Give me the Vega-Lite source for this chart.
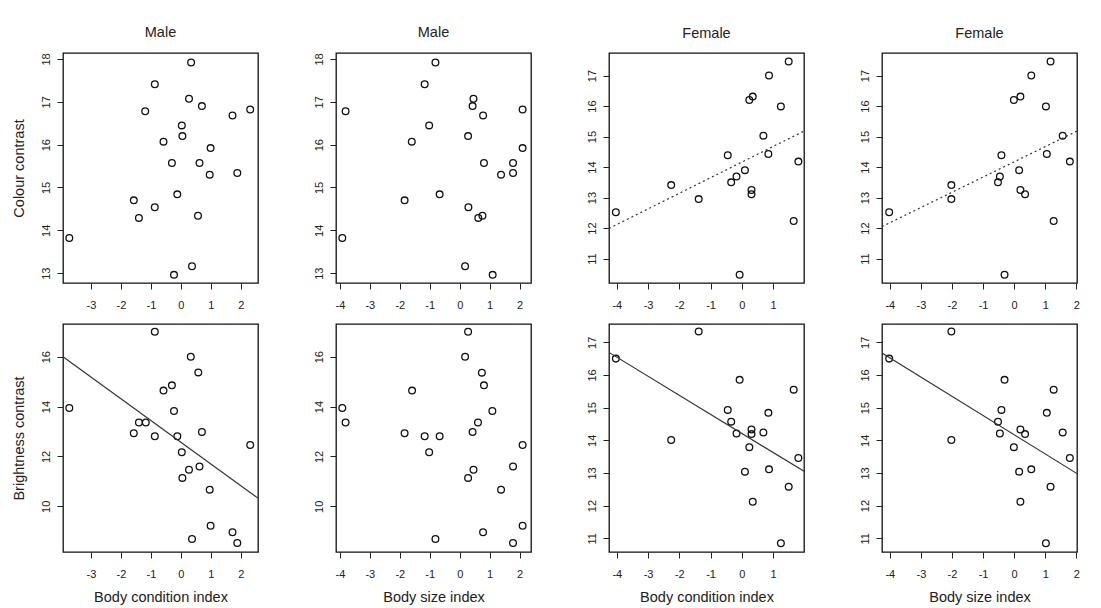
{
 "$schema": "https://vega.github.io/schema/vega-lite/v6.json",
 "background": "white",
 "padding": {"left": 10, "top": 24, "right": 5, "bottom": 5},
 "datasets": {
  "pts": [
   {"p":1,"x":0.34,"y":17.92},{"p":1,"x":-0.87,"y":17.41},{"p":1,"x":0.27,"y":17.07},{"p":1,"x":0.70,"y":16.90},{"p":1,"x":-1.19,"y":16.78},{"p":1,"x":2.31,"y":16.82},{"p":1,"x":1.72,"y":16.68},{"p":1,"x":0.03,"y":16.45},{"p":1,"x":0.05,"y":16.20},{"p":1,"x":-0.58,"y":16.07},{"p":1,"x":0.99,"y":15.92},{"p":1,"x":-0.30,"y":15.57},{"p":1,"x":0.62,"y":15.57},{"p":1,"x":0.96,"y":15.30},{"p":1,"x":1.88,"y":15.34},{"p":1,"x":-0.12,"y":14.84},{"p":1,"x":-1.57,"y":14.70},{"p":1,"x":-0.87,"y":14.54},{"p":1,"x":-1.40,"y":14.29},{"p":1,"x":0.57,"y":14.34},{"p":1,"x":-3.72,"y":13.82},{"p":1,"x":0.37,"y":13.16},{"p":1,"x":-0.23,"y":12.96},
   {"p":2,"x":-0.81,"y":17.92},{"p":2,"x":-1.17,"y":17.41},{"p":2,"x":0.46,"y":17.07},{"p":2,"x":0.43,"y":16.90},{"p":2,"x":0.78,"y":16.68},{"p":2,"x":-3.81,"y":16.78},{"p":2,"x":2.10,"y":16.82},{"p":2,"x":-1.02,"y":16.45},{"p":2,"x":0.28,"y":16.20},{"p":2,"x":-1.60,"y":16.07},{"p":2,"x":2.10,"y":15.92},{"p":2,"x":0.81,"y":15.57},{"p":2,"x":1.78,"y":15.57},{"p":2,"x":1.38,"y":15.30},{"p":2,"x":1.78,"y":15.34},{"p":2,"x":-0.67,"y":14.84},{"p":2,"x":-1.84,"y":14.70},{"p":2,"x":0.29,"y":14.54},{"p":2,"x":0.62,"y":14.29},{"p":2,"x":0.76,"y":14.34},{"p":2,"x":-3.92,"y":13.82},{"p":2,"x":0.18,"y":13.16},{"p":2,"x":1.10,"y":12.96},
   {"p":3,"x":1.50,"y":17.46},{"p":3,"x":0.87,"y":17.0},{"p":3,"x":0.24,"y":16.20},{"p":3,"x":0.35,"y":16.31},{"p":3,"x":1.25,"y":15.99},{"p":3,"x":0.69,"y":15.03},{"p":3,"x":-0.45,"y":14.39},{"p":3,"x":0.85,"y":14.43},{"p":3,"x":1.81,"y":14.18},{"p":3,"x":0.10,"y":13.90},{"p":3,"x":-0.17,"y":13.69},{"p":3,"x":-0.34,"y":13.50},{"p":3,"x":-2.26,"y":13.41},{"p":3,"x":0.31,"y":13.25},{"p":3,"x":0.31,"y":13.11},{"p":3,"x":-1.38,"y":12.95},{"p":3,"x":-4.03,"y":12.52},{"p":3,"x":1.66,"y":12.23},{"p":3,"x":-0.07,"y":10.47},
   {"p":4,"x":1.17,"y":17.46},{"p":4,"x":0.55,"y":17.0},{"p":4,"x":-0.01,"y":16.20},{"p":4,"x":0.20,"y":16.31},{"p":4,"x":1.02,"y":15.99},{"p":4,"x":1.56,"y":15.03},{"p":4,"x":-0.41,"y":14.39},{"p":4,"x":1.05,"y":14.43},{"p":4,"x":1.79,"y":14.18},{"p":4,"x":0.16,"y":13.90},{"p":4,"x":-0.46,"y":13.69},{"p":4,"x":-0.52,"y":13.50},{"p":4,"x":-2.02,"y":13.41},{"p":4,"x":0.20,"y":13.25},{"p":4,"x":0.35,"y":13.11},{"p":4,"x":-2.02,"y":12.95},{"p":4,"x":-4.02,"y":12.52},{"p":4,"x":1.27,"y":12.23},{"p":4,"x":-0.31,"y":10.47},
   {"p":5,"x":-0.87,"y":17.00},{"p":5,"x":0.33,"y":16.00},{"p":5,"x":0.58,"y":15.37},{"p":5,"x":-0.30,"y":14.85},{"p":5,"x":-0.58,"y":14.64},{"p":5,"x":-3.72,"y":13.94},{"p":5,"x":-0.23,"y":13.82},{"p":5,"x":-1.40,"y":13.36},{"p":5,"x":-1.17,"y":13.36},{"p":5,"x":-1.57,"y":12.93},{"p":5,"x":-0.87,"y":12.81},{"p":5,"x":-0.12,"y":12.81},{"p":5,"x":0.70,"y":12.98},{"p":5,"x":2.31,"y":12.46},{"p":5,"x":0.03,"y":12.17},{"p":5,"x":0.27,"y":11.47},{"p":5,"x":0.62,"y":11.60},{"p":5,"x":0.05,"y":11.14},{"p":5,"x":0.96,"y":10.67},{"p":5,"x":0.99,"y":9.22},{"p":5,"x":1.72,"y":8.96},{"p":5,"x":1.88,"y":8.53},{"p":5,"x":0.37,"y":8.69},
   {"p":6,"x":0.28,"y":17.00},{"p":6,"x":0.18,"y":16.00},{"p":6,"x":0.74,"y":15.36},{"p":6,"x":0.81,"y":14.85},{"p":6,"x":-1.59,"y":14.64},{"p":6,"x":-3.92,"y":13.94},{"p":6,"x":1.09,"y":13.82},{"p":6,"x":-3.81,"y":13.36},{"p":6,"x":0.61,"y":13.36},{"p":6,"x":-1.84,"y":12.93},{"p":6,"x":-1.17,"y":12.81},{"p":6,"x":-0.67,"y":12.81},{"p":6,"x":0.43,"y":12.98},{"p":6,"x":2.10,"y":12.46},{"p":6,"x":-1.02,"y":12.17},{"p":6,"x":0.46,"y":11.47},{"p":6,"x":1.78,"y":11.60},{"p":6,"x":0.28,"y":11.14},{"p":6,"x":1.38,"y":10.67},{"p":6,"x":2.10,"y":9.22},{"p":6,"x":0.78,"y":8.96},{"p":6,"x":1.78,"y":8.53},{"p":6,"x":-0.81,"y":8.69},
   {"p":7,"x":-1.38,"y":17.33},{"p":7,"x":-4.03,"y":16.50},{"p":7,"x":-0.07,"y":15.85},{"p":7,"x":1.66,"y":15.55},{"p":7,"x":-0.45,"y":14.93},{"p":7,"x":0.85,"y":14.84},{"p":7,"x":-0.34,"y":14.57},{"p":7,"x":-0.17,"y":14.21},{"p":7,"x":0.31,"y":14.33},{"p":7,"x":0.31,"y":14.19},{"p":7,"x":0.69,"y":14.24},{"p":7,"x":-2.26,"y":14.01},{"p":7,"x":0.24,"y":13.79},{"p":7,"x":1.81,"y":13.46},{"p":7,"x":0.10,"y":13.04},{"p":7,"x":0.87,"y":13.11},{"p":7,"x":1.50,"y":12.58},{"p":7,"x":0.35,"y":12.12},{"p":7,"x":1.25,"y":10.85},
   {"p":8,"x":-2.02,"y":17.33},{"p":8,"x":-4.02,"y":16.50},{"p":8,"x":-0.31,"y":15.85},{"p":8,"x":1.27,"y":15.55},{"p":8,"x":-0.41,"y":14.93},{"p":8,"x":1.05,"y":14.84},{"p":8,"x":-0.52,"y":14.57},{"p":8,"x":-0.46,"y":14.21},{"p":8,"x":0.20,"y":14.33},{"p":8,"x":0.35,"y":14.19},{"p":8,"x":1.56,"y":14.24},{"p":8,"x":-2.02,"y":14.01},{"p":8,"x":-0.01,"y":13.79},{"p":8,"x":1.79,"y":13.46},{"p":8,"x":0.16,"y":13.04},{"p":8,"x":0.55,"y":13.11},{"p":8,"x":1.17,"y":12.58},{"p":8,"x":0.20,"y":12.12},{"p":8,"x":1.02,"y":10.85}
  ],
  "fits": [
   {"p":3,"x":-4.25,"y":11.99},{"p":3,"x":1.99,"y":15.18},
   {"p":4,"x":-4.25,"y":12.05},{"p":4,"x":2.02,"y":15.18},
   {"p":5,"x":-3.93,"y":16.0},{"p":5,"x":2.57,"y":10.33},
   {"p":7,"x":-4.25,"y":16.69},{"p":7,"x":1.99,"y":13.05},
   {"p":8,"x":-4.25,"y":16.67},{"p":8,"x":2.02,"y":12.98}
  ]
 },
 "config": {
  "font": "Liberation Sans",
  "view": {"stroke": "#111", "strokeWidth": 1.3},
  "axis": {"domain": false, "grid": false, "ticks": true, "tickSize": 6, "tickColor": "#222", "tickWidth": 1, "tickCount": 20, "format": "d",
           "labelFont": "Liberation Sans", "labelFontSize": 11, "labelColor": "#222", "labelOverlap": false, "labelFlush": false, "labelBound": false,
           "titleFont": "Liberation Sans", "titleFontSize": 14.5, "titleFontWeight": "normal", "titleColor": "#222"},
  "axisX": {"labelPadding": 10, "titlePadding": 11},
  "axisY": {"labelAngle": -90, "labelAlign": "center", "labelBaseline": "bottom", "labelPadding": 6, "titlePadding": 14},
  "title": {"font": "Liberation Sans", "fontSize": 14.5, "fontWeight": "normal", "color": "#222", "offset": 12},
  "point": {"shape": "circle", "filled": false, "size": 45, "strokeWidth": 1.3, "color": "#111", "opacity": 1},
  "line": {"color": "#333", "strokeWidth": 1.2}
 },
 "columns": 4,
 "spacing": {"row": 41, "column": 78},
 "bounds": "flush",
 "concat": [
  {"width": 195, "height": 230, "title": "Male",
   "layer": [
    {"data": {"name": "pts"}, "transform": [{"filter": "datum.p == 1"}], "mark": "point",
     "encoding": {"x": {"field": "x", "type": "quantitative", "scale": {"domain": [-3.93, 2.57], "nice": false, "zero": false}, "axis": {"values": [-3,-2,-1,0,1,2], "tickCount": 20, "format": "d", "title": null, "labelExpr": "replace(datum.label, '\u2212', '-')"}},
                  "y": {"field": "y", "type": "quantitative", "scale": {"domain": [12.77, 18.14], "nice": false, "zero": false}, "axis": {"values": [13,14,15,16,17,18], "tickCount": 20, "format": "d", "title": "Colour contrast"}}}}
   ]},
  {"width": 195, "height": 230, "title": "Male",
   "layer": [
    {"data": {"name": "pts"}, "transform": [{"filter": "datum.p == 2"}], "mark": "point",
     "encoding": {"x": {"field": "x", "type": "quantitative", "scale": {"domain": [-4.13, 2.38], "nice": false, "zero": false}, "axis": {"values": [-4,-3,-2,-1,0,1,2], "tickCount": 20, "format": "d", "title": null, "labelExpr": "replace(datum.label, '\u2212', '-')"}},
                  "y": {"field": "y", "type": "quantitative", "scale": {"domain": [12.77, 18.14], "nice": false, "zero": false}, "axis": {"values": [13,14,15,16,17,18], "tickCount": 20, "format": "d", "title": null}}}}
   ]},
  {"width": 195, "height": 230, "title": "Female",
   "layer": [
    {"data": {"name": "pts"}, "transform": [{"filter": "datum.p == 3"}], "mark": "point",
     "encoding": {"x": {"field": "x", "type": "quantitative", "scale": {"domain": [-4.25, 1.99], "nice": false, "zero": false}, "axis": {"values": [-4,-3,-2,-1,0,1], "tickCount": 20, "format": "d", "title": null, "labelExpr": "replace(datum.label, '\u2212', '-')"}},
                  "y": {"field": "y", "type": "quantitative", "scale": {"domain": [10.2, 17.74], "nice": false, "zero": false}, "axis": {"values": [11,12,13,14,15,16,17], "tickCount": 20, "format": "d", "title": null}}}},
    {"data": {"name": "fits"}, "transform": [{"filter": "datum.p == 3"}], "mark": {"type": "line", "strokeDash": [2, 3], "clip": true},
     "encoding": {"x": {"field": "x", "type": "quantitative"}, "y": {"field": "y", "type": "quantitative"}}}
   ]},
  {"width": 195, "height": 230, "title": "Female",
   "layer": [
    {"data": {"name": "pts"}, "transform": [{"filter": "datum.p == 4"}], "mark": "point",
     "encoding": {"x": {"field": "x", "type": "quantitative", "scale": {"domain": [-4.25, 2.02], "nice": false, "zero": false}, "axis": {"values": [-4,-3,-2,-1,0,1,2], "tickCount": 20, "format": "d", "title": null, "labelExpr": "replace(datum.label, '\u2212', '-')"}},
                  "y": {"field": "y", "type": "quantitative", "scale": {"domain": [10.2, 17.74], "nice": false, "zero": false}, "axis": {"values": [11,12,13,14,15,16,17], "tickCount": 20, "format": "d", "title": null}}}},
    {"data": {"name": "fits"}, "transform": [{"filter": "datum.p == 4"}], "mark": {"type": "line", "strokeDash": [2, 3], "clip": true},
     "encoding": {"x": {"field": "x", "type": "quantitative"}, "y": {"field": "y", "type": "quantitative"}}}
   ]},
  {"width": 195, "height": 228,
   "layer": [
    {"data": {"name": "pts"}, "transform": [{"filter": "datum.p == 5"}], "mark": "point",
     "encoding": {"x": {"field": "x", "type": "quantitative", "scale": {"domain": [-3.93, 2.57], "nice": false, "zero": false}, "axis": {"values": [-3,-2,-1,0,1,2], "tickCount": 20, "format": "d", "title": "Body condition index", "labelExpr": "replace(datum.label, '\u2212', '-')"}},
                  "y": {"field": "y", "type": "quantitative", "scale": {"domain": [8.17, 17.31], "nice": false, "zero": false}, "axis": {"values": [10,12,14,16], "tickCount": 20, "format": "d", "title": "Brightness contrast"}}}},
    {"data": {"name": "fits"}, "transform": [{"filter": "datum.p == 5"}], "mark": {"type": "line", "clip": true},
     "encoding": {"x": {"field": "x", "type": "quantitative"}, "y": {"field": "y", "type": "quantitative"}}}
   ]},
  {"width": 195, "height": 228,
   "layer": [
    {"data": {"name": "pts"}, "transform": [{"filter": "datum.p == 6"}], "mark": "point",
     "encoding": {"x": {"field": "x", "type": "quantitative", "scale": {"domain": [-4.13, 2.38], "nice": false, "zero": false}, "axis": {"values": [-4,-3,-2,-1,0,1,2], "tickCount": 20, "format": "d", "title": "Body size index", "labelExpr": "replace(datum.label, '\u2212', '-')"}},
                  "y": {"field": "y", "type": "quantitative", "scale": {"domain": [8.17, 17.31], "nice": false, "zero": false}, "axis": {"values": [10,12,14,16], "tickCount": 20, "format": "d", "title": null}}}}
   ]},
  {"width": 195, "height": 228,
   "layer": [
    {"data": {"name": "pts"}, "transform": [{"filter": "datum.p == 7"}], "mark": "point",
     "encoding": {"x": {"field": "x", "type": "quantitative", "scale": {"domain": [-4.25, 1.99], "nice": false, "zero": false}, "axis": {"values": [-4,-3,-2,-1,0,1], "tickCount": 20, "format": "d", "title": "Body condition index", "labelExpr": "replace(datum.label, '\u2212', '-')"}},
                  "y": {"field": "y", "type": "quantitative", "scale": {"domain": [10.58, 17.56], "nice": false, "zero": false}, "axis": {"values": [11,12,13,14,15,16,17], "tickCount": 20, "format": "d", "title": null}}}},
    {"data": {"name": "fits"}, "transform": [{"filter": "datum.p == 7"}], "mark": {"type": "line", "clip": true},
     "encoding": {"x": {"field": "x", "type": "quantitative"}, "y": {"field": "y", "type": "quantitative"}}}
   ]},
  {"width": 195, "height": 228,
   "layer": [
    {"data": {"name": "pts"}, "transform": [{"filter": "datum.p == 8"}], "mark": "point",
     "encoding": {"x": {"field": "x", "type": "quantitative", "scale": {"domain": [-4.25, 2.02], "nice": false, "zero": false}, "axis": {"values": [-4,-3,-2,-1,0,1,2], "tickCount": 20, "format": "d", "title": "Body size index", "labelExpr": "replace(datum.label, '\u2212', '-')"}},
                  "y": {"field": "y", "type": "quantitative", "scale": {"domain": [10.58, 17.56], "nice": false, "zero": false}, "axis": {"values": [11,12,13,14,15,16,17], "tickCount": 20, "format": "d", "title": null}}}},
    {"data": {"name": "fits"}, "transform": [{"filter": "datum.p == 8"}], "mark": {"type": "line", "clip": true},
     "encoding": {"x": {"field": "x", "type": "quantitative"}, "y": {"field": "y", "type": "quantitative"}}}
   ]}
 ]
}
